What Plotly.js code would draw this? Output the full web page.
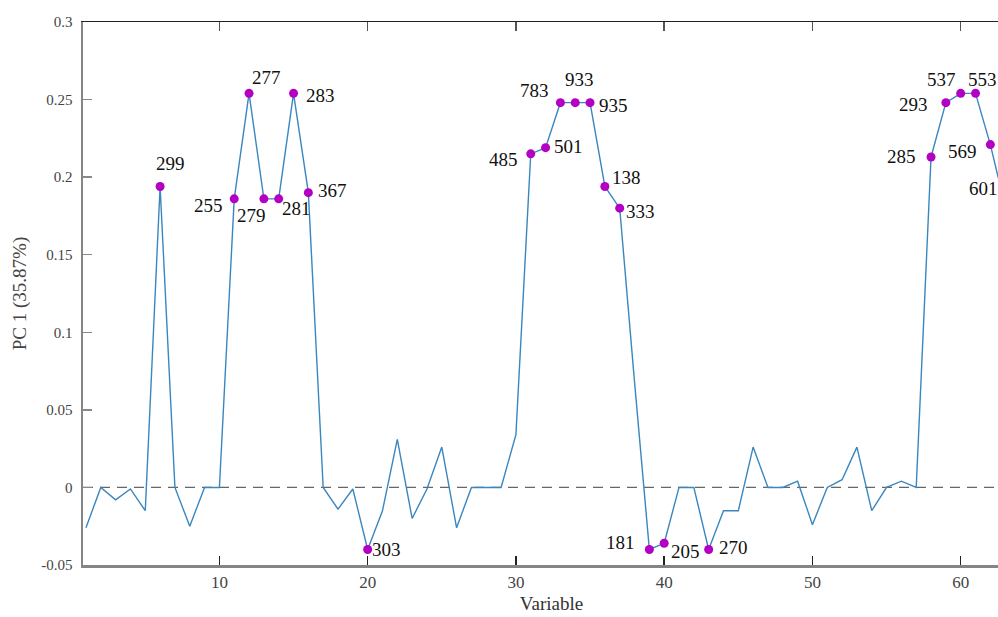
<!DOCTYPE html>
<html>
<head>
<meta charset="utf-8">
<script src="https://cdn.plot.ly/plotly-3.0.1.min.js"></script>
<style>
  html, body { margin: 0; padding: 0; background: #fff; overflow: hidden; }
  #chart { width: 1040px; height: 617px; }
</style>
</head>
<body>
<div id="chart"></div>
<script>
// ---- data ----
const variables = Array.from({length: 63}, (_, i) => i + 1);
const pc1Loadings = [
  -0.026, 0, -0.008, -0.001, -0.015, 0.194, 0, -0.025, 0, 0,
  0.186, 0.254, 0.186, 0.186, 0.254, 0.19, 0, -0.014, -0.001, -0.04,
  -0.015, 0.031, -0.02, -0.001, 0.026, -0.026, 0, 0, 0, 0.034,
  0.215, 0.219, 0.248, 0.248, 0.248, 0.194, 0.18, 0.068, -0.04, -0.036,
  0, 0, -0.04, -0.015, -0.015, 0.026, 0, 0, 0.004, -0.024,
  0, 0.005, 0.026, -0.015, 0, 0.004, 0, 0.213, 0.248, 0.254,
  0.254, 0.221, 0.181
];
const labelVars = [6, 11, 12, 13, 14, 15, 16, 20, 31, 32, 33, 34, 35, 36, 37, 39, 40, 43, 58, 59, 60, 61, 62, 63];
const labelTexts = ['299', '255', '277', '279', '281', '283', '367', '303', '485', '501', '783', '933', '935', '138', '333', '181', '205', '270', '285', '293', '537', '553', '569', '601'];
const xTickVals = [10, 20, 30, 40, 50, 60];
const yTickVals = [-0.05, 0, 0.05, 0.1, 0.15, 0.2, 0.25, 0.3];
const yTickText = ['-0.05', '0', '0.05', '0.1', '0.15', '0.2', '0.25', '0.3'];

// ---- label placement (pixel offsets of label centre from its point: [dx, dy], dy down) ----
const labelOffsets = [
  [10, -23], [-26, 7], [17, -16], [-12, 17], [18, 10], [27, 2], [24, -2], [19, 0],
  [-27, 6], [23, -1], [-26, -12], [4, -23], [23, 3], [22, -9], [21, 3],
  [-29, -7], [21, 8], [25, -2], [-30, 0], [-32, 2], [-19, -14], [7, -14], [-28, 7], [-22, -18]
];

const labelY = labelVars.map(v => pc1Loadings[variables.indexOf(v)]);

const serif = '"Liberation Serif", "Times New Roman", serif';

const traces = [
  {
    x: variables, y: pc1Loadings, type: 'scatter', mode: 'lines',
    line: {color: '#3a86bf', width: 1.4}, hoverinfo: 'skip', cliponaxis: true
  },
  {
    x: labelVars, y: labelY, type: 'scatter', mode: 'markers',
    marker: {color: '#b300c2', size: 9}, cliponaxis: true
  },
  { x: [], y: [], xaxis: 'x2', type: 'scatter', mode: 'markers', showlegend: false }
];

const annotations = labelVars.map((v, i) => ({
  x: v, y: labelY[i], xref: 'x', yref: 'y', text: labelTexts[i], showarrow: false,
  xanchor: 'center', yanchor: 'middle',
  xshift: labelOffsets[i][0], yshift: -labelOffsets[i][1],
  font: {family: serif, size: 19, color: '#111'}
}));

const layout = {
  width: 1040, height: 617,
  margin: {l: 83, r: 20, t: 22, b: 52},
  paper_bgcolor: '#fff', plot_bgcolor: '#fff',
  showlegend: false,
  xaxis: {
    range: [0.8, 64], tickvals: xTickVals, ticktext: xTickVals.map(String),
    ticks: 'inside', ticklen: 9, tickwidth: 1.5, tickcolor: '#222',
    showline: true, linecolor: '#858585', linewidth: 2.5, mirror: false,
    showgrid: false, zeroline: false,
    tickfont: {family: serif, size: 17, color: '#444'},
    title: {text: 'Variable', font: {family: serif, size: 19, color: '#333'}, standoff: 6}
  },
  xaxis2: {
    overlaying: 'x', side: 'top', anchor: 'y', range: [0.8, 64],
    tickvals: xTickVals, showticklabels: false,
    ticks: 'inside', ticklen: 9, tickwidth: 1.5, tickcolor: '#555',
    showline: true, linecolor: '#222', linewidth: 1.5,
    showgrid: false, zeroline: false
  },
  yaxis: {
    range: [-0.05, 0.3], tickvals: yTickVals, ticktext: yTickText,
    ticks: 'inside', ticklen: 9, tickwidth: 1.5, tickcolor: '#888',
    showline: true, linecolor: '#858585', linewidth: 2.5, mirror: false,
    showgrid: false, zeroline: false, ticklabelstandoff: 5,
    tickfont: {family: serif, size: 15, color: '#444'},
    title: {text: 'PC 1 (35.87%)', font: {family: serif, size: 19, color: '#444'}, standoff: 10}
  },
  shapes: [{
    type: 'line', xref: 'paper', x0: 0, x1: 1, yref: 'y', y0: 0, y1: 0,
    line: {color: '#666', width: 1.3, dash: '10px,7px'}, layer: 'below'
  }],
  annotations: annotations
};

Plotly.newPlot('chart', traces, layout, {displayModeBar: false, staticPlot: true});
</script>
</body>
</html>
